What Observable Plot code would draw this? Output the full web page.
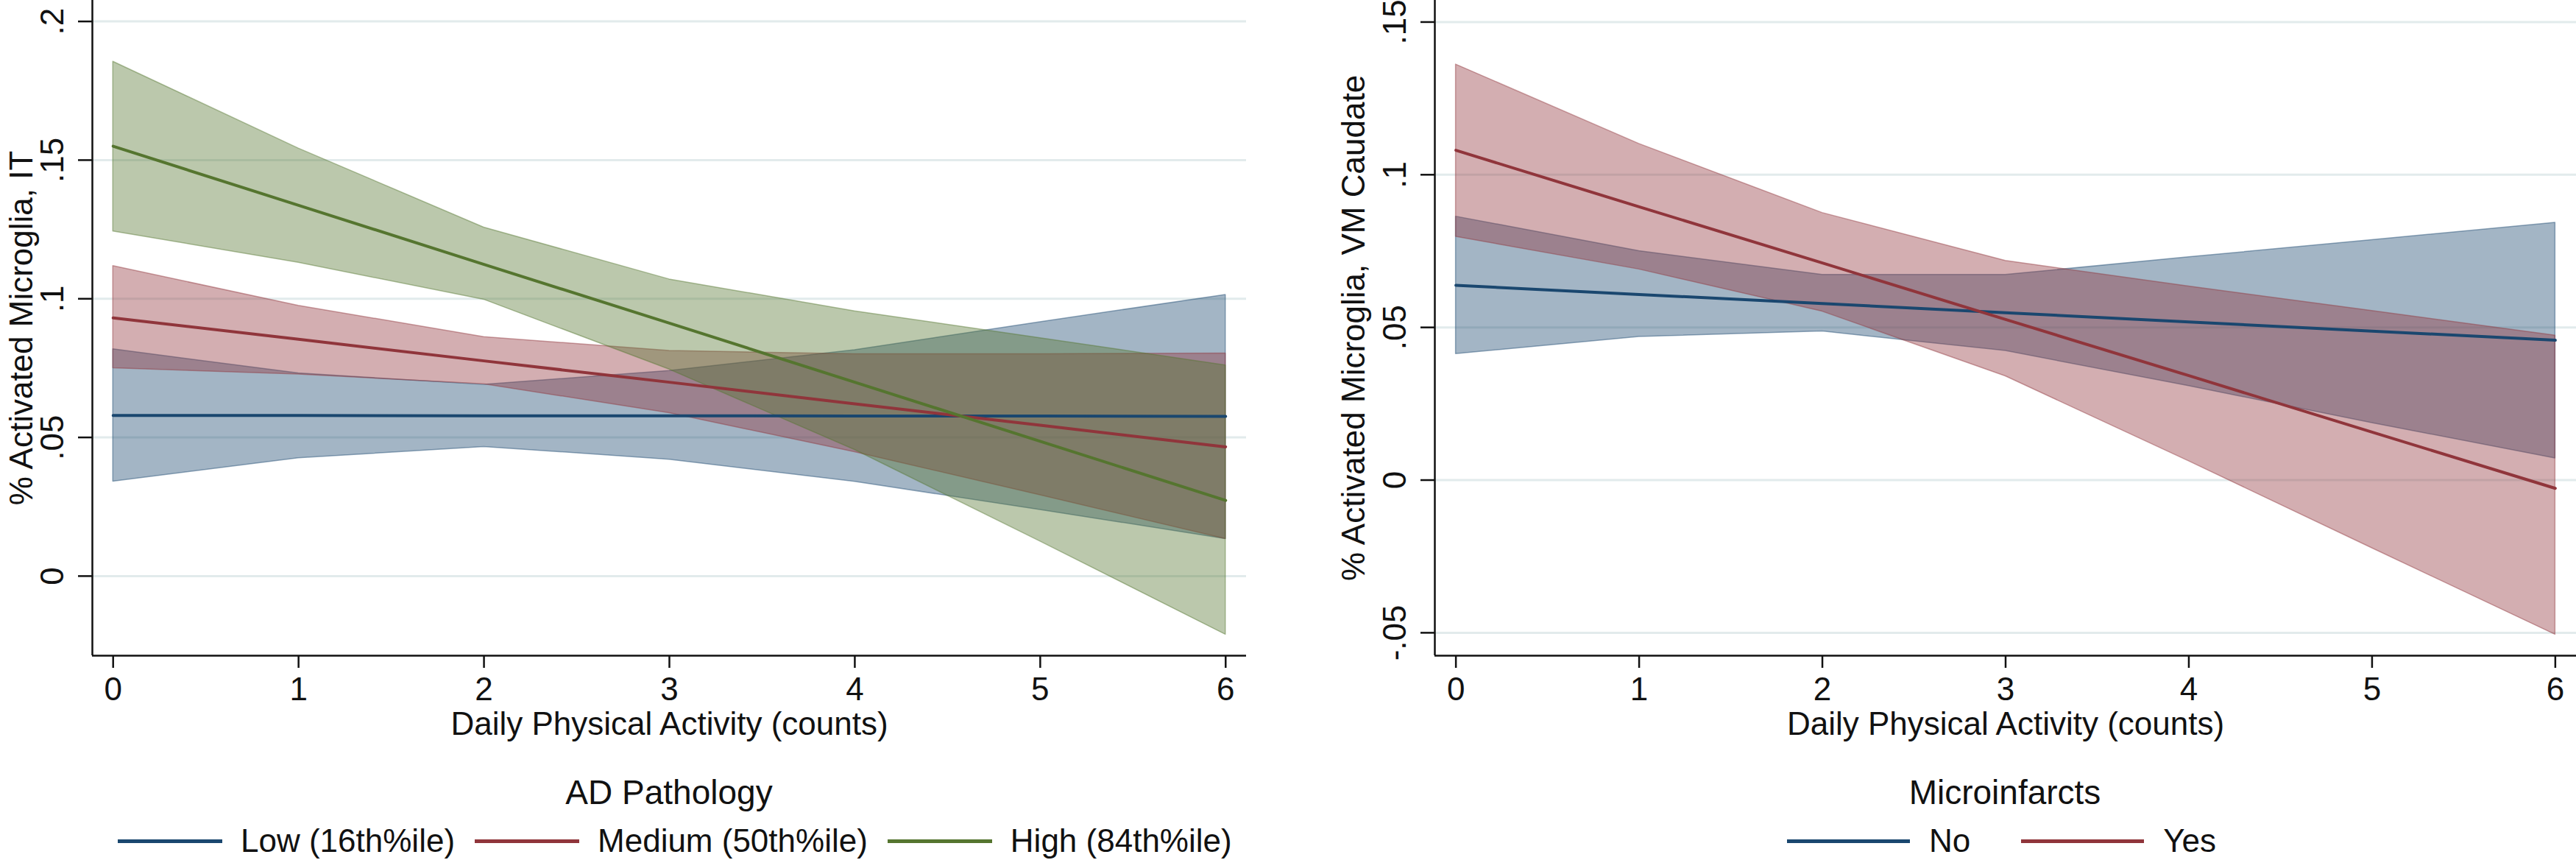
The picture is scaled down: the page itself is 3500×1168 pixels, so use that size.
<!DOCTYPE html>
<html>
<head>
<meta charset="utf-8">
<script src="https://cdn.jsdelivr.net/npm/d3@7"></script>
<script src="https://cdn.jsdelivr.net/npm/@observablehq/plot@0.6"></script>
<style>
html, body { margin: 0; padding: 0; background: #fff; }
#root { position: relative; width: 3500px; height: 1168px; overflow: hidden; font-family: "Liberation Sans", Arial, Helvetica, sans-serif; color: #111; }
.panel { position: absolute; top: 0; }
.legend-title { position: absolute; font-size: 46px; line-height: 1; white-space: nowrap; transform: translateX(-50%); }
.legend-row { position: absolute; display: flex; align-items: center; font-size: 44px; line-height: 1; white-space: nowrap; }
.sw { display: inline-block; height: 5px; }
</style>
</head>
<body>
<div id="root"></div>
<script>
// ---------- shared ----------
const activity = [0, 1, 2, 3, 4, 5, 6];
const xTicks = [0, 1, 2, 3, 4, 5, 6];
const xTickLabels = ["0", "1", "2", "3", "4", "5", "6"];
const xTitle = "Daily Physical Activity (counts)";

// ---------- panel A: AD pathology ----------
const adTitleY = "% Activated Microglia, IT";
const adLegendTitle = "AD Pathology";
const adGroups = ["Low (16th%ile)", "Medium (50th%ile)", "High (84th%ile)"];
const adColors = ["#1a476f", "#90353b", "#55752f"];
const adLowFit  = [0.0579, 0.0579, 0.0578, 0.0578, 0.0577, 0.0577, 0.0576];
const adLowLo   = [0.0341, 0.0425, 0.0466, 0.0420, 0.0340, 0.0239, 0.0134];
const adLowHi   = [0.0818, 0.0731, 0.0690, 0.0740, 0.0815, 0.0916, 0.1014];
const adMedFit  = [0.0931, 0.0854, 0.0776, 0.0699, 0.0621, 0.0544, 0.0466];
const adMedLo   = [0.0750, 0.0727, 0.0692, 0.0588, 0.0447, 0.0292, 0.0134];
const adMedHi   = [0.1118, 0.0975, 0.0862, 0.0812, 0.0800, 0.0800, 0.0803];
const adHighFit = [0.1550, 0.1337, 0.1124, 0.0912, 0.0699, 0.0486, 0.0273];
const adHighLo  = [0.1243, 0.1130, 0.0997, 0.0745, 0.0455, 0.0125, -0.0211];
const adHighHi  = [0.1855, 0.1542, 0.1257, 0.1070, 0.0955, 0.0858, 0.0760];
const adYTicks = [0, 0.05, 0.1, 0.15, 0.2];
const adYTickLabels = ["0", ".05", ".1", ".15", ".2"];
const adYDomain = [-0.0287, 0.2076];

// ---------- panel B: microinfarcts ----------
const miTitleY = "% Activated Microglia, VM Caudate";
const miLegendTitle = "Microinfarcts";
const miGroups = ["No", "Yes"];
const miColors = ["#1a476f", "#90353b"];
const miNoFit  = [0.0638, 0.0608, 0.0578, 0.0548, 0.0518, 0.0488, 0.0458];
const miNoLo   = [0.0413, 0.0469, 0.0487, 0.0423, 0.0308, 0.0187, 0.0071];
const miNoHi   = [0.0863, 0.0750, 0.0672, 0.0672, 0.0730, 0.0786, 0.0843];
const miYesFit = [0.1080, 0.0895, 0.0711, 0.0526, 0.0342, 0.0157, -0.0027];
const miYesLo  = [0.0797, 0.0690, 0.0552, 0.0340, 0.0062, -0.0223, -0.0506];
const miYesHi  = [0.1361, 0.1101, 0.0875, 0.0718, 0.0634, 0.0554, 0.0473];
const miYTicks = [-0.05, 0, 0.05, 0.1, 0.15];
const miYTickLabels = ["-.05", "0", ".05", ".1", ".15"];
const miYDomain = [-0.0575, 0.1571];

// ---------- helpers ----------
function buildRows(groups, fits, los, his) {
  return groups.flatMap((g, i) => activity.map((a, j) => ({
    group: g, x: a, fit: fits[i][j], lo: los[i][j], hi: his[i][j]
  })));
}

const FONT = "'Liberation Sans', Arial, Helvetica, sans-serif";
const INK = "#111";
const GRID = "#e2ebec";

function makePanel(cfg) {
  const data = buildRows(cfg.groups, cfg.fits, cfg.los, cfg.his);
  return Plot.plot({
    width: cfg.width,
    height: 1020,
    marginLeft: cfg.marginLeft,
    marginRight: cfg.marginRight,
    marginTop: 0,
    marginBottom: 130,
    style: { fontFamily: FONT, color: INK, background: "transparent", overflow: "visible" },
    x: { domain: cfg.xDomain, axis: null },
    y: { domain: cfg.yDomain, axis: null },
    color: { domain: cfg.groups, range: cfg.colors },
    marks: [
      Plot.gridY(cfg.yTicks, { stroke: GRID, strokeOpacity: 1, strokeWidth: 3 }),
      Plot.areaY(data, {
        x: "x", y1: "lo", y2: "hi", z: "group",
        fill: "group", fillOpacity: 0.4,
        stroke: "group", strokeOpacity: 0.45, strokeWidth: 1.5
      }),
      Plot.lineY(data, { x: "x", y: "fit", z: "group", stroke: "group", strokeWidth: 4 }),
      Plot.ruleX([cfg.xDomain[0]], { stroke: INK, strokeWidth: 2.5 }),
      Plot.ruleY([cfg.yDomain[0]], { stroke: INK, strokeWidth: 2.5 }),
      Plot.axisX({
        ticks: xTicks,
        tickFormat: d => xTickLabels[xTicks.indexOf(d)],
        tickSize: 17, tickPadding: 12, strokeWidth: 2.5,
        fontSize: 44, label: null
      }),
      Plot.axisY({
        ticks: cfg.yTicks, tickFormat: () => "",
        tickSize: 19, strokeWidth: 2.5, label: null
      }),
      Plot.text(cfg.yTicks, {
        y: d => d, text: d => cfg.yTickLabels[cfg.yTicks.indexOf(d)],
        frameAnchor: "left", dx: -40, rotate: -90,
        textAnchor: "middle", lineAnchor: "bottom", fontSize: 44, fill: INK
      }),
      Plot.text([cfg.yTitle], {
        text: d => d, frameAnchor: "left", dx: cfg.titleDx, rotate: -90,
        textAnchor: "middle", lineAnchor: "bottom", fontSize: 44, fill: INK
      }),
      Plot.text([xTitle], {
        text: d => d, frameAnchor: "bottom", dy: 107,
        textAnchor: "middle", lineAnchor: "bottom", fontSize: 44, fill: INK
      })
    ]
  });
}

function addLegend(root, cfg) {
  const t = document.createElement("div");
  t.className = "legend-title";
  t.textContent = cfg.title;
  t.style.left = cfg.titleCenter + "px";
  t.style.top = "1053px";
  root.appendChild(t);
  const row = document.createElement("div");
  row.className = "legend-row";
  row.style.left = cfg.rowLeft + "px";
  row.style.top = "1120px";
  cfg.groups.forEach((g, i) => {
    const sw = document.createElement("span");
    sw.className = "sw";
    sw.style.width = cfg.swatch + "px";
    sw.style.background = cfg.colors[i];
    sw.style.marginRight = cfg.textGap + "px";
    if (i > 0) sw.style.marginLeft = cfg.itemGap + "px";
    const lab = document.createElement("span");
    lab.textContent = g;
    row.appendChild(sw);
    row.appendChild(lab);
  });
  root.appendChild(row);
}

const root = document.getElementById("root");

const left = document.createElement("div");
left.className = "panel";
left.style.left = "0px";
left.appendChild(makePanel({
  width: 1750, marginLeft: 125, marginRight: 57, titleDx: -82,
  xDomain: [-0.112, 6.112], yDomain: adYDomain,
  yTicks: adYTicks, yTickLabels: adYTickLabels, yTitle: adTitleY,
  groups: adGroups, colors: adColors,
  fits: [adLowFit, adMedFit, adHighFit],
  los: [adLowLo, adMedLo, adHighLo],
  his: [adLowHi, adMedHi, adHighHi]
}));
root.appendChild(left);

const right = document.createElement("div");
right.className = "panel";
right.style.left = "1750px";
right.appendChild(makePanel({
  width: 1750, marginLeft: 199, marginRight: 0, titleDx: -96,
  xDomain: [-0.115, 6.115], yDomain: miYDomain,
  yTicks: miYTicks, yTickLabels: miYTickLabels, yTitle: miTitleY,
  groups: miGroups, colors: miColors,
  fits: [miNoFit, miYesFit],
  los: [miNoLo, miYesLo],
  his: [miNoHi, miYesHi]
}));
root.appendChild(right);

addLegend(root, { title: adLegendTitle, titleCenter: 909, rowLeft: 160, groups: adGroups, colors: adColors, swatch: 142, textGap: 25, itemGap: 27 });
addLegend(root, { title: miLegendTitle, titleCenter: 2724, rowLeft: 2428, groups: miGroups, colors: miColors, swatch: 167, textGap: 26, itemGap: 69 });
</script>
</body>
</html>
